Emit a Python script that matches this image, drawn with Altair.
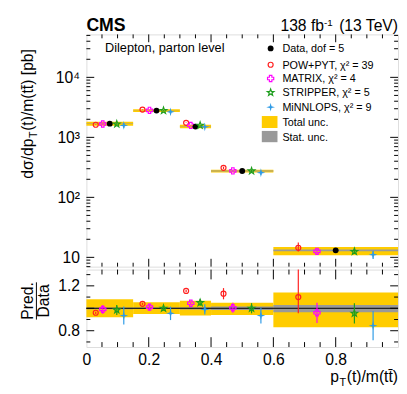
import altair as alt
import pandas as pd

# ---------------- data ----------------
bin_lo = [0.0, 0.15, 0.30, 0.40, 0.60]
bin_hi = [0.15, 0.30, 0.40, 0.60, 1.00]
data_val = [1690, 2790, 1513, 275, 13.1]
tot_lo = [0.92, 0.95, 0.935, 0.94, 0.83]
tot_hi = [1.08, 1.053, 1.068, 1.05, 1.14]
stat_lo = [0.992, 0.994, 0.99, 0.985, 0.965]
stat_hi = [1.008, 1.006, 1.01, 1.015, 1.03]

pred_names = ["POW+PYT", "MATRIX", "STRIPPER", "MINNLOPS"]
pred_ratio = {
    "POW+PYT": [0.96, 1.04, 1.155, 1.13, 1.10],
    "MATRIX": [0.99, 1.01, 1.045, 1.005, 0.96],
    "STRIPPER": [0.985, 1.0, 1.05, 1.0, 0.955],
    "MINNLOPS": [0.935, 0.955, 0.99, 0.935, 0.845],
}
pred_err_lo = {
    "POW+PYT": [0.01, 0.01, 0.01, 0.05, 0.145],
    "MATRIX": [0.04, 0.03, 0.015, 0.045, 0.09],
    "STRIPPER": [0.045, 0.02, 0.03, 0.045, 0.09],
    "MINNLOPS": [0.08, 0.06, 0.045, 0.07, 0.13],
}
pred_err_hi = {
    "POW+PYT": [0.01, 0.01, 0.01, 0.05, 0.245],
    "MATRIX": [0.04, 0.03, 0.015, 0.045, 0.09],
    "STRIPPER": [0.045, 0.02, 0.03, 0.045, 0.09],
    "MINNLOPS": [0.08, 0.06, 0.045, 0.07, 0.13],
}
pred_offset = {"POW+PYT": 0.2, "MATRIX": 0.35, "STRIPPER": 0.65, "MINNLOPS": 0.8}

legend_labels = ["Data, dof = 5", "POW+PYT, \u03c7\u00b2 = 39", "MATRIX, \u03c7\u00b2 = 4",
                 "STRIPPER, \u03c7\u00b2 = 5", "MiNNLOPS, \u03c7\u00b2 = 9", "Total unc.", "Stat. unc."]

main_yticks = [10, 100, 1000, 10000]
ratio_yticks = [0.8, 1.0, 1.2]
x_ticks = [0, 0.2, 0.4, 0.6, 0.8]

# ---------------- styling ----------------
FONT = "Liberation Sans"
W, H1, H2 = 318, 237, 79
YELLOW = "#FFCC00"
GREY = "#999999"
STAR5 = ("M0,-1L0.235,-0.324L0.951,-0.309L0.38,0.124L0.588,0.809L0,0.4"
         "L-0.588,0.809L-0.38,0.124L-0.951,-0.309L-0.235,-0.324Z")
STAR4 = "M0,-1L0.2,-0.2L1,0L0.2,0.2L0,1L-0.2,0.2L-1,0L-0.2,-0.2Z"
style = {
    "Data": dict(shape="circle", filled=True, color="black", size=36, strokeWidth=1),
    "POW+PYT": dict(shape="circle", filled=False, color="#FF2020", size=26, strokeWidth=1.2),
    "MATRIX": dict(shape="cross", filled=False, color="#FF00FF", size=40, strokeWidth=1.2),
    "STRIPPER": dict(shape=STAR5, filled=False, color="#1E9E1E", size=50, strokeWidth=1.2),
    "MINNLOPS": dict(shape=STAR4, filled=True, color="#2E9BE6", size=80, strokeWidth=1),
}

HW = {' ': 278, '(': 333, ')': 333, '/': 278, '[': 278, ']': 278, '.': 278, ',': 278,
      '-': 333, 'a': 556, 'b': 556, 'd': 556, 'e': 556, 'f': 278, 'm': 833, 'p': 556,
      't': 278, 'T': 611, 'V': 667, '\u03c3': 600, '\u0304': 0}


def tw(s, size):
    return sum(HW.get(c, 556) for c in s) * size / 1000.0


# ---------------- tables ----------------
bins = pd.DataFrame(dict(lo=bin_lo, hi=bin_hi, data=data_val, tlo=tot_lo, thi=tot_hi,
                         slo=stat_lo, shi=stat_hi))
bins["xc"] = (bins["lo"] + bins["hi"]) / 2
for c in ["tlo", "thi", "slo", "shi"]:
    bins["m_" + c] = bins["data"] * bins[c]

rows = []
for name in pred_names:
    for i in range(5):
        r = pred_ratio[name][i]
        lo, hi = bin_lo[i], bin_hi[i]
        rlo = r - pred_err_lo[name][i]
        rhi = r + pred_err_hi[name][i]
        rows.append(dict(name=name, x=lo + pred_offset[name] * (hi - lo), r=r, rlo=rlo, rhi=rhi,
                         v=data_val[i] * r, vlo=data_val[i] * rlo, vhi=data_val[i] * rhi))
preds = pd.DataFrame(rows)

dummy = pd.DataFrame({"d": [0]})

xs = alt.Scale(domain=[0, 1], nice=False, zero=False)
ys_main = alt.Scale(type="log", domain=[7, 52000], nice=False)
ys_ratio = alt.Scale(domain=[0.655, 1.345], nice=False, zero=False)

lab = dict(labelFont=FONT, labelFontSize=16, labelColor="black", ticks=False, domain=False,
           grid=False, title=None, labelOverlap=False, labelFlush=False, labelBound=False)
ax_main_y = alt.Axis(values=main_yticks, labelPadding=7,
                     labelExpr="datum.value == 10 ? '10' : datum.value == 100 ? '10\u00b2' : "
                               "datum.value == 1000 ? '10\u00b3' : '10\u2074'", **lab)
ax_ratio_y = alt.Axis(values=ratio_yticks, labelPadding=7,
                      labelExpr="datum.value > 1.1 ? '1.2' : datum.value > 0.9 ? '1' : '0.8'", **lab)
ax_ratio_x = alt.Axis(values=x_ticks, format="~g", labelPadding=5, **lab)


def XM(f):
    return alt.X(f, type="quantitative", scale=xs, axis=None)


def XR(f):
    return alt.X(f, type="quantitative", scale=xs, axis=ax_ratio_x)


def YM(f):
    return alt.Y(f, type="quantitative", scale=ys_main, axis=ax_main_y)


def YR(f):
    return alt.Y(f, type="quantitative", scale=ys_ratio, axis=ax_ratio_y)


def txt(s, x, y, size=16, align="left", weight="normal", angle=0, baseline="alphabetic"):
    return alt.Chart(dummy).mark_text(font=FONT, fontSize=size, align=align, fontWeight=weight,
                                      angle=angle, baseline=baseline, color="black").encode(
        x=alt.value(x), y=alt.value(y), text=alt.value(s))


def yticks_layers(vals, YF, minor_vals, major_len=8, minor_len=4):
    out = []
    for v, ln in [(vals, major_len), (minor_vals, minor_len)]:
        df = pd.DataFrame({"t": v})
        out.append(alt.Chart(df).mark_rule(color="black", strokeWidth=1).encode(
            y=YF("t"), x=alt.value(0), x2=alt.value(ln)))
        out.append(alt.Chart(df).mark_rule(color="black", strokeWidth=1).encode(
            y=YF("t"), x=alt.value(W - ln), x2=alt.value(W)))
    return out


def xticks_layers(XF, height, major_len=8, minor_len=4):
    out = []
    majors = [0.2, 0.4, 0.6, 0.8]
    minors = [round(0.05 * k, 2) for k in range(1, 20) if k % 4 != 0]
    for v, ln in [(majors, major_len), (minors, minor_len)]:
        df = pd.DataFrame({"t": v})
        out.append(alt.Chart(df).mark_rule(color="black", strokeWidth=1).encode(
            x=XF("t"), y=alt.value(height), y2=alt.value(height - ln)))
        out.append(alt.Chart(df).mark_rule(color="black", strokeWidth=1).encode(
            x=XF("t"), y=alt.value(0), y2=alt.value(ln)))
    return out


# ---------------- main panel ----------------
main_layers = [
    alt.Chart(bins).mark_rect(color=YELLOW).encode(x=XM("lo"), x2="hi", y=YM("m_tlo"), y2="m_thi"),
    alt.Chart(bins).mark_rect(color=GREY).encode(x=XM("lo"), x2="hi", y=YM("m_slo"), y2="m_shi"),
]
for name in pred_names:
    st = style[name]
    sub = preds[preds["name"] == name]
    main_layers.append(alt.Chart(sub).mark_rule(color=st["color"], strokeWidth=1.2).encode(
        x=XM("x"), y=YM("vlo"), y2="vhi"))
for name in ["POW+PYT", "MATRIX"]:
    st = style[name]
    sub = preds[preds["name"] == name]
    main_layers.append(alt.Chart(sub).mark_point(opacity=1, **st).encode(x=XM("x"), y=YM("v")))
main_layers.append(alt.Chart(bins).mark_point(opacity=1, **style["Data"]).encode(
    x=XM("xc"), y=YM("data")))
for name in ["STRIPPER", "MINNLOPS"]:
    st = style[name]
    sub = preds[preds["name"] == name]
    main_layers.append(alt.Chart(sub).mark_point(opacity=1, **st).encode(x=XM("x"), y=YM("v")))

minor_log = [m * 10 ** k for k in range(0, 5) for m in range(2, 10) if 7 <= m * 10 ** k <= 52000]
main_layers += yticks_layers(main_yticks, YM, minor_log)
main_layers += xticks_layers(XM, H1)

# legend
leg_x_marker, leg_x_text = 188, 200
leg_y = [14.3, 31, 45, 59.3, 74.3]
for key, lbl, yy in zip(["Data"] + pred_names, legend_labels[:5], leg_y):
    st = style[key]
    main_layers.append(alt.Chart(dummy).mark_point(opacity=1, **st).encode(
        x=alt.value(leg_x_marker), y=alt.value(yy)))
    main_layers.append(txt(lbl, leg_x_text, yy + 4, size=11))
main_layers.append(alt.Chart(dummy).mark_rect(color=YELLOW).encode(
    x=alt.value(179), x2=alt.value(195), y=alt.value(83.3), y2=alt.value(95.5)))
main_layers.append(txt(legend_labels[5], leg_x_text, 89.3 + 4, size=11))
main_layers.append(alt.Chart(dummy).mark_rect(color=GREY).encode(
    x=alt.value(179), x2=alt.value(195), y=alt.value(98.5), y2=alt.value(110)))
main_layers.append(txt(legend_labels[6], leg_x_text, 104.3 + 4, size=11))

main_layers.append(txt("Dilepton, parton level", 19, 17.7, size=13))
main_layers.append(txt("CMS", 0, -3, size=18, weight="bold"))
# luminosity label, right aligned pieces
p3 = " (13 TeV)"
p2 = "-1"
p1 = "138 fb"
w3 = tw(p3, 16)
w2 = tw(p2, 10)
main_layers.append(txt(p3, W, -3, size=16, align="right"))
main_layers.append(txt(p2, W - w3, -9, size=10, align="right"))
main_layers.append(txt(p1, W - w3 - w2, -3, size=16, align="right"))

# y title (rotated), right aligned at top
yt3 = "(t)/m(tt\u0304) [pb]"
yt2 = "T"
yt1 = "d\u03c3/dp"
ytop = 15
ybx = -54
main_layers.append(txt(yt3, ybx, ytop, size=16, align="right", angle=270))
main_layers.append(txt(yt2, ybx + 4, ytop + tw(yt3, 16) + 0.5, size=11, align="right", angle=270))
main_layers.append(txt(yt1, ybx, ytop + tw(yt3, 16) + tw(yt2, 11) + 1, size=16, align="right", angle=270))

main = alt.layer(*main_layers).properties(width=W, height=H1)

# ---------------- ratio panel ----------------
ratio_layers = [
    alt.Chart(bins).mark_rect(color=YELLOW).encode(x=XR("lo"), x2="hi", y=YR("tlo"), y2="thi"),
    alt.Chart(bins).mark_rect(color=GREY).encode(x=XR("lo"), x2="hi", y=YR("slo"), y2="shi"),
    alt.Chart(dummy).mark_rule(color="black", strokeWidth=1).encode(y=alt.datum(1, scale=ys_ratio)),
]
for name in pred_names:
    st = style[name]
    sub = preds[preds["name"] == name]
    ratio_layers.append(alt.Chart(sub).mark_rule(color=st["color"], strokeWidth=1.2).encode(
        x=XR("x"), y=YR("rlo"), y2="rhi"))
for name in pred_names:
    st = style[name]
    sub = preds[preds["name"] == name]
    ratio_layers.append(alt.Chart(sub).mark_point(opacity=1, **st).encode(x=XR("x"), y=YR("r")))

ratio_layers += yticks_layers(ratio_yticks, YR, [0.7, 0.9, 1.1, 1.3])
ratio_layers += xticks_layers(XR, H2, major_len=10, minor_len=5)

# x title, right aligned
xt3 = "(t)/m(tt\u0304)"
xt2 = "T"
xt1 = "p"
xb = H2 + 36
ratio_layers.append(txt(xt3, W, xb, size=16, align="right"))
ratio_layers.append(txt(xt2, W - tw(xt3, 16) - 0.5, xb + 4, size=11, align="right"))
ratio_layers.append(txt(xt1, W - tw(xt3, 16) - tw(xt2, 11) - 1, xb, size=16, align="right"))

# Pred./Data
rc = 32
ratio_layers.append(txt("Pred.", -54, rc, size=16, align="center", angle=270))
ratio_layers.append(txt("Data", -38, rc, size=16, align="center", angle=270))
ratio_layers.append(alt.Chart(dummy).mark_rule(color="black", strokeWidth=1).encode(
    x=alt.value(-51), y=alt.value(rc - 19), y2=alt.value(rc + 19)))

ratio = alt.layer(*ratio_layers).properties(width=W, height=H2)

chart = alt.vconcat(main, ratio, spacing=0).properties(
    padding={"left": 12, "top": 5, "right": 0, "bottom": 0}
).configure_view(stroke="black", strokeWidth=1).configure(background="white")

chart.save("out.html", embed_options={"renderer": "svg", "actions": False})
